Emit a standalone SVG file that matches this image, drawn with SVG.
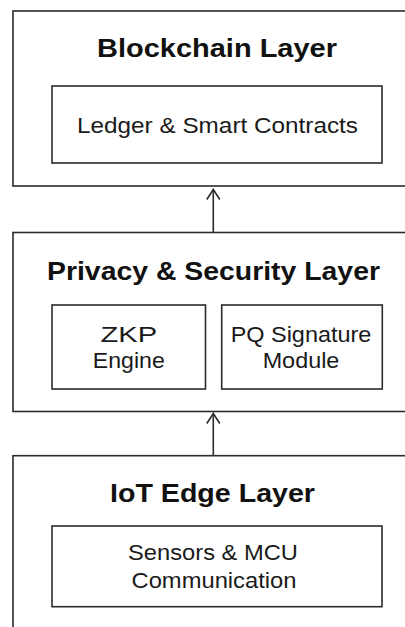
<svg xmlns="http://www.w3.org/2000/svg" width="405" height="627" viewBox="0 0 405 627">
  <style>
    .box { fill: none; stroke: #2b2b2b; stroke-width: 1.6; }
    .title { font-family: "Liberation Sans", Arial, sans-serif; font-weight: bold; font-size: 26px; fill: #111; text-anchor: middle; }
    .label { font-family: "Liberation Sans", Arial, sans-serif; font-size: 22px; fill: #1a1a1a; text-anchor: middle; }
    .conn { fill: none; stroke: #2b2b2b; stroke-width: 1.6; }
  </style>
  <defs>
    <marker id="arrow" markerWidth="16" markerHeight="16" refX="11" refY="7" orient="auto" markerUnits="userSpaceOnUse">
      <path d="M1,0.5 L11,7 L1,13.5" fill="none" stroke="#2b2b2b" stroke-width="1.6"/>
    </marker>
  </defs>
  <rect width="405" height="627" fill="#ffffff"/>

  <g id="blockchain-layer">
    <rect class="box" x="13" y="11" width="400" height="175"/>
    <text class="title" x="217" y="57" textLength="240" lengthAdjust="spacingAndGlyphs">Blockchain Layer</text>
  </g>
  <g id="ledger">
    <rect class="box" x="52" y="86" width="330" height="77"/>
    <text class="label" x="217.5" y="132.5" textLength="281" lengthAdjust="spacingAndGlyphs">Ledger &amp; Smart Contracts</text>
  </g>

  <g id="privacy-layer">
    <rect class="box" x="13" y="232.5" width="400" height="179"/>
    <text class="title" x="213.5" y="280" textLength="333" lengthAdjust="spacingAndGlyphs">Privacy &amp; Security Layer</text>
  </g>
  <g id="zkp-engine">
    <rect class="box" x="52" y="305" width="153.5" height="84"/>
    <text class="label" x="128.8" y="341.7" textLength="56.7" lengthAdjust="spacingAndGlyphs">ZKP</text>
    <text class="label" x="128.8" y="368.3" textLength="72" lengthAdjust="spacingAndGlyphs">Engine</text>
  </g>
  <g id="pq-signature">
    <rect class="box" x="221.7" y="305" width="160.6" height="84"/>
    <text class="label" x="301" y="341.7" textLength="140.7" lengthAdjust="spacingAndGlyphs">PQ Signature</text>
    <text class="label" x="301" y="368.3" textLength="76.7" lengthAdjust="spacingAndGlyphs">Module</text>
  </g>

  <g id="iot-edge-layer">
    <rect class="box" x="13" y="455.7" width="400" height="200"/>
    <text class="title" x="212.5" y="501.7" textLength="205" lengthAdjust="spacingAndGlyphs">IoT Edge Layer</text>
  </g>
  <g id="sensors-mcu">
    <rect class="box" x="52" y="526" width="330" height="80.7"/>
    <text class="label" x="213" y="560" textLength="170" lengthAdjust="spacingAndGlyphs">Sensors &amp; MCU</text>
    <text class="label" x="214" y="588" textLength="165" lengthAdjust="spacingAndGlyphs">Communication</text>
  </g>

  <g id="connectors">
    <line class="conn" x1="213.3" y1="232.5" x2="213.3" y2="189.5" marker-end="url(#arrow)"/>
    <line class="conn" x1="213.3" y1="455.7" x2="213.3" y2="413.5" marker-end="url(#arrow)"/>
  </g>
</svg>
